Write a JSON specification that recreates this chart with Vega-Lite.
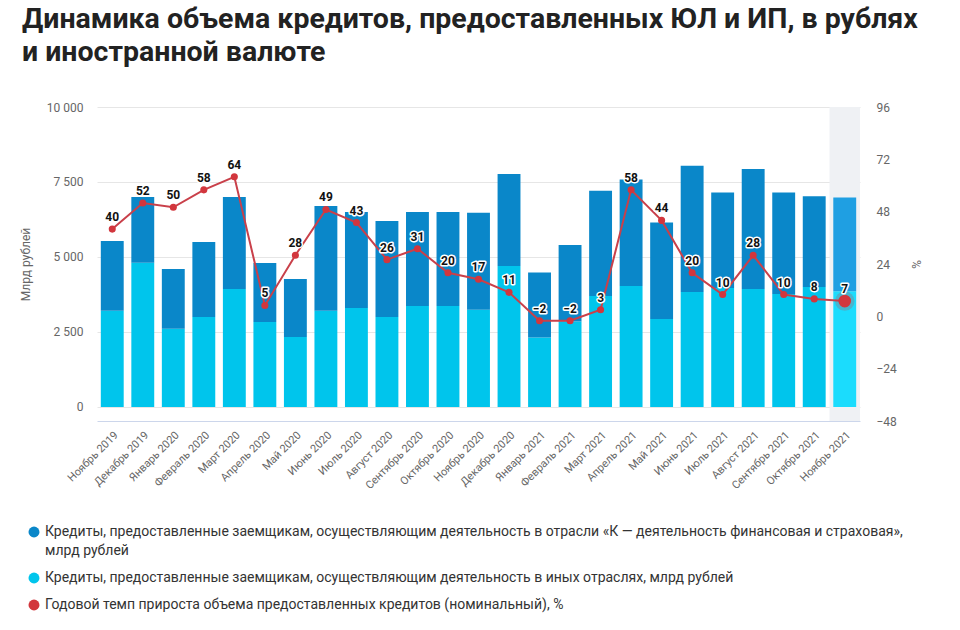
{
  "$schema": "https://vega.github.io/schema/vega-lite/v6.json",
  "width": 763,
  "height": 314,
  "autosize": "none",
  "padding": {"left": 97, "top": 107, "right": 100, "bottom": 209},
  "config": {"view": {"stroke": null}, "font": "Roboto"},
  "title": {
    "text": ["Динамика объема кредитов, предоставленных ЮЛ и ИП, в рублях", "и иностранной валюте"],
    "anchor": "start", "frame": "group", "dx": -75, "fontSize": 28.5, "fontWeight": "bold",
    "color": "#222222", "lineHeight": 33, "offset": 35, "font": "Roboto"
  },
  "datasets": {
    "bars": [
      {"month": "Ноябрь 2019", "series": "Кредиты, предоставленные заемщикам, осуществляющим деятельность в иных отраслях, млрд рублей", "value": 3210},
      {"month": "Ноябрь 2019", "series": "Кредиты, предоставленные заемщикам, осуществляющим деятельность в отрасли «К — деятельность финансовая и страховая», млрд рублей", "value": 2323},
      {"month": "Декабрь 2019", "series": "Кредиты, предоставленные заемщикам, осуществляющим деятельность в иных отраслях, млрд рублей", "value": 4810},
      {"month": "Декабрь 2019", "series": "Кредиты, предоставленные заемщикам, осуществляющим деятельность в отрасли «К — деятельность финансовая и страховая», млрд рублей", "value": 2190},
      {"month": "Январь 2020", "series": "Кредиты, предоставленные заемщикам, осуществляющим деятельность в иных отраслях, млрд рублей", "value": 2610},
      {"month": "Январь 2020", "series": "Кредиты, предоставленные заемщикам, осуществляющим деятельность в отрасли «К — деятельность финансовая и страховая», млрд рублей", "value": 1990},
      {"month": "Февраль 2020", "series": "Кредиты, предоставленные заемщикам, осуществляющим деятельность в иных отраслях, млрд рублей", "value": 3000},
      {"month": "Февраль 2020", "series": "Кредиты, предоставленные заемщикам, осуществляющим деятельность в отрасли «К — деятельность финансовая и страховая», млрд рублей", "value": 2500},
      {"month": "Март 2020", "series": "Кредиты, предоставленные заемщикам, осуществляющим деятельность в иных отраслях, млрд рублей", "value": 3933},
      {"month": "Март 2020", "series": "Кредиты, предоставленные заемщикам, осуществляющим деятельность в отрасли «К — деятельность финансовая и страховая», млрд рублей", "value": 3067},
      {"month": "Апрель 2020", "series": "Кредиты, предоставленные заемщикам, осуществляющим деятельность в иных отраслях, млрд рублей", "value": 2833},
      {"month": "Апрель 2020", "series": "Кредиты, предоставленные заемщикам, осуществляющим деятельность в отрасли «К — деятельность финансовая и страховая», млрд рублей", "value": 1967},
      {"month": "Май 2020", "series": "Кредиты, предоставленные заемщикам, осуществляющим деятельность в иных отраслях, млрд рублей", "value": 2333},
      {"month": "Май 2020", "series": "Кредиты, предоставленные заемщикам, осуществляющим деятельность в отрасли «К — деятельность финансовая и страховая», млрд рублей", "value": 1934},
      {"month": "Июнь 2020", "series": "Кредиты, предоставленные заемщикам, осуществляющим деятельность в иных отраслях, млрд рублей", "value": 3210},
      {"month": "Июнь 2020", "series": "Кредиты, предоставленные заемщикам, осуществляющим деятельность в отрасли «К — деятельность финансовая и страховая», млрд рублей", "value": 3490},
      {"month": "Июль 2020", "series": "Кредиты, предоставленные заемщикам, осуществляющим деятельность в иных отраслях, млрд рублей", "value": 3300},
      {"month": "Июль 2020", "series": "Кредиты, предоставленные заемщикам, осуществляющим деятельность в отрасли «К — деятельность финансовая и страховая», млрд рублей", "value": 3200},
      {"month": "Август 2020", "series": "Кредиты, предоставленные заемщикам, осуществляющим деятельность в иных отраслях, млрд рублей", "value": 3000},
      {"month": "Август 2020", "series": "Кредиты, предоставленные заемщикам, осуществляющим деятельность в отрасли «К — деятельность финансовая и страховая», млрд рублей", "value": 3200},
      {"month": "Сентябрь 2020", "series": "Кредиты, предоставленные заемщикам, осуществляющим деятельность в иных отраслях, млрд рублей", "value": 3367},
      {"month": "Сентябрь 2020", "series": "Кредиты, предоставленные заемщикам, осуществляющим деятельность в отрасли «К — деятельность финансовая и страховая», млрд рублей", "value": 3133},
      {"month": "Октябрь 2020", "series": "Кредиты, предоставленные заемщикам, осуществляющим деятельность в иных отраслях, млрд рублей", "value": 3367},
      {"month": "Октябрь 2020", "series": "Кредиты, предоставленные заемщикам, осуществляющим деятельность в отрасли «К — деятельность финансовая и страховая», млрд рублей", "value": 3133},
      {"month": "Ноябрь 2020", "series": "Кредиты, предоставленные заемщикам, осуществляющим деятельность в иных отраслях, млрд рублей", "value": 3243},
      {"month": "Ноябрь 2020", "series": "Кредиты, предоставленные заемщикам, осуществляющим деятельность в отрасли «К — деятельность финансовая и страховая», млрд рублей", "value": 3231},
      {"month": "Декабрь 2020", "series": "Кредиты, предоставленные заемщикам, осуществляющим деятельность в иных отраслях, млрд рублей", "value": 4700},
      {"month": "Декабрь 2020", "series": "Кредиты, предоставленные заемщикам, осуществляющим деятельность в отрасли «К — деятельность финансовая и страховая», млрд рублей", "value": 3070},
      {"month": "Январь 2021", "series": "Кредиты, предоставленные заемщикам, осуществляющим деятельность в иных отраслях, млрд рублей", "value": 2311},
      {"month": "Январь 2021", "series": "Кредиты, предоставленные заемщикам, осуществляющим деятельность в отрасли «К — деятельность финансовая и страховая», млрд рублей", "value": 2167},
      {"month": "Февраль 2021", "series": "Кредиты, предоставленные заемщикам, осуществляющим деятельность в иных отраслях, млрд рублей", "value": 2845},
      {"month": "Февраль 2021", "series": "Кредиты, предоставленные заемщикам, осуществляющим деятельность в отрасли «К — деятельность финансовая и страховая», млрд рублей", "value": 2555},
      {"month": "Март 2021", "series": "Кредиты, предоставленные заемщикам, осуществляющим деятельность в иных отраслях, млрд рублей", "value": 3700},
      {"month": "Март 2021", "series": "Кредиты, предоставленные заемщикам, осуществляющим деятельность в отрасли «К — деятельность финансовая и страховая», млрд рублей", "value": 3510},
      {"month": "Апрель 2021", "series": "Кредиты, предоставленные заемщикам, осуществляющим деятельность в иных отраслях, млрд рублей", "value": 4033},
      {"month": "Апрель 2021", "series": "Кредиты, предоставленные заемщикам, осуществляющим деятельность в отрасли «К — деятельность финансовая и страховая», млрд рублей", "value": 3551},
      {"month": "Май 2021", "series": "Кредиты, предоставленные заемщикам, осуществляющим деятельность в иных отраслях, млрд рублей", "value": 2933},
      {"month": "Май 2021", "series": "Кредиты, предоставленные заемщикам, осуществляющим деятельность в отрасли «К — деятельность финансовая и страховая», млрд рублей", "value": 3217},
      {"month": "Июнь 2021", "series": "Кредиты, предоставленные заемщикам, осуществляющим деятельность в иных отраслях, млрд рублей", "value": 3833},
      {"month": "Июнь 2021", "series": "Кредиты, предоставленные заемщикам, осуществляющим деятельность в отрасли «К — деятельность финансовая и страховая», млрд рублей", "value": 4207},
      {"month": "Июль 2021", "series": "Кредиты, предоставленные заемщикам, осуществляющим деятельность в иных отраслях, млрд рублей", "value": 3967},
      {"month": "Июль 2021", "series": "Кредиты, предоставленные заемщикам, осуществляющим деятельность в отрасли «К — деятельность финансовая и страховая», млрд рублей", "value": 3183},
      {"month": "Август 2021", "series": "Кредиты, предоставленные заемщикам, осуществляющим деятельность в иных отраслях, млрд рублей", "value": 3933},
      {"month": "Август 2021", "series": "Кредиты, предоставленные заемщикам, осуществляющим деятельность в отрасли «К — деятельность финансовая и страховая», млрд рублей", "value": 4003},
      {"month": "Сентябрь 2021", "series": "Кредиты, предоставленные заемщикам, осуществляющим деятельность в иных отраслях, млрд рублей", "value": 3767},
      {"month": "Сентябрь 2021", "series": "Кредиты, предоставленные заемщикам, осуществляющим деятельность в отрасли «К — деятельность финансовая и страховая», млрд рублей", "value": 3383},
      {"month": "Октябрь 2021", "series": "Кредиты, предоставленные заемщикам, осуществляющим деятельность в иных отраслях, млрд рублей", "value": 4000},
      {"month": "Октябрь 2021", "series": "Кредиты, предоставленные заемщикам, осуществляющим деятельность в отрасли «К — деятельность финансовая и страховая», млрд рублей", "value": 3020},
      {"month": "Ноябрь 2021", "series": "Кредиты, предоставленные заемщикам, осуществляющим деятельность в иных отраслях, млрд рублей", "value": 3855},
      {"month": "Ноябрь 2021", "series": "Кредиты, предоставленные заемщикам, осуществляющим деятельность в отрасли «К — деятельность финансовая и страховая», млрд рублей", "value": 3128}
    ],
    "rate": [
      {"month": "Ноябрь 2019", "rate": 40},
      {"month": "Декабрь 2019", "rate": 52},
      {"month": "Январь 2020", "rate": 50},
      {"month": "Февраль 2020", "rate": 58},
      {"month": "Март 2020", "rate": 64},
      {"month": "Апрель 2020", "rate": 5},
      {"month": "Май 2020", "rate": 28},
      {"month": "Июнь 2020", "rate": 49},
      {"month": "Июль 2020", "rate": 43},
      {"month": "Август 2020", "rate": 26},
      {"month": "Сентябрь 2020", "rate": 31},
      {"month": "Октябрь 2020", "rate": 20},
      {"month": "Ноябрь 2020", "rate": 17},
      {"month": "Декабрь 2020", "rate": 11},
      {"month": "Январь 2021", "rate": -2},
      {"month": "Февраль 2021", "rate": -2},
      {"month": "Март 2021", "rate": 3},
      {"month": "Апрель 2021", "rate": 58},
      {"month": "Май 2021", "rate": 44},
      {"month": "Июнь 2021", "rate": 20},
      {"month": "Июль 2021", "rate": 10},
      {"month": "Август 2021", "rate": 28},
      {"month": "Сентябрь 2021", "rate": 10},
      {"month": "Октябрь 2021", "rate": 8},
      {"month": "Ноябрь 2021", "rate": 7}
    ]
  },
  "encoding": {
    "x": {
      "field": "month", "type": "nominal",
      "scale": {
        "domain": ["Ноябрь 2019","Декабрь 2019","Январь 2020","Февраль 2020","Март 2020","Апрель 2020","Май 2020","Июнь 2020","Июль 2020","Август 2020","Сентябрь 2020","Октябрь 2020","Ноябрь 2020","Декабрь 2020","Январь 2021","Февраль 2021","Март 2021","Апрель 2021","Май 2021","Июнь 2021","Июль 2021","Август 2021","Сентябрь 2021","Октябрь 2021","Ноябрь 2021"],
        "paddingInner": 0.25, "paddingOuter": 0.125
      },
      "axis": {
        "title": null, "labelAngle": -45, "labelFontSize": 11, "labelColor": "#666666",
        "ticks": false, "domainColor": "#ccd6eb", "labelPadding": 8, "grid": false, "labelFont": "Roboto"
      }
    }
  },
  "layer": [
    {
      "data": {"name": "rate"},
      "transform": [{"filter": "datum.month === 'Ноябрь 2021'"}],
      "mark": {"type": "bar", "color": "#eff1f4", "width": {"band": 1.33}}
    },
    {
      "data": {"name": "bars"},
      "mark": {"type": "bar"},
      "encoding": {
        "y": {
          "field": "value", "type": "quantitative", "stack": "zero",
          "scale": {"domain": [-470, 10000], "nice": false, "zero": false},
          "axis": {
            "title": "Млрд рублей", "values": [0, 2500, 5000, 7500, 10000],
            "labelExpr": "replace(format(datum.value, ','), ',', ' ')",
            "domain": false, "ticks": false, "gridColor": "#e6e6e6", "labelColor": "#666666",
            "labelFontSize": 12, "titleColor": "#666666", "titleFontWeight": "normal", "titleFontSize": 12,
            "labelPadding": 14, "titlePadding": 14, "labelFont": "Roboto", "titleFont": "Roboto"
          }
        },
        "order": {"field": "series", "sort": "ascending"},
        "color": {
          "condition": [
            {"test": "datum.month === 'Ноябрь 2021' && indexof(datum.series, 'отрасли') >= 0", "value": "#1f9fe2"},
            {"test": "datum.month === 'Ноябрь 2021'", "value": "#1bdcfd"}
          ],
          "field": "series", "type": "nominal",
          "scale": {
            "domain": [
              "Кредиты, предоставленные заемщикам, осуществляющим деятельность в отрасли «К — деятельность финансовая и страховая», млрд рублей",
              "Кредиты, предоставленные заемщикам, осуществляющим деятельность в иных отраслях, млрд рублей",
              "Годовой темп прироста объема предоставленных кредитов (номинальный), %"
            ],
            "range": ["#0a87c9", "#00c5ec", "#d2363d"]
          },
          "legend": {
            "orient": "none", "legendX": -70, "legendY": 418, "direction": "vertical", "title": null,
            "symbolType": "circle", "symbolSize": 120, "labelFontSize": 14, "labelColor": "#333333",
            "labelLimit": 900, "rowPadding": 13, "labelFont": "Roboto", "symbolStrokeWidth": 0,
            "labelExpr": "indexof(datum.label, 'отрасли') >= 0 ? ['Кредиты, предоставленные заемщикам, осуществляющим деятельность в отрасли «К — деятельность финансовая и страховая»,', 'млрд рублей'] : datum.label",
            "encode": {"labels": {"update": {"lineHeight": {"value": 19}}}}
          }
        }
      }
    },
    {
      "data": {"name": "rate"},
      "encoding": {
        "y": {
          "field": "rate", "type": "quantitative",
          "scale": {"domain": [-48, 96], "nice": false},
          "axis": {
            "orient": "right", "title": "%", "values": [-48, -24, 0, 24, 48, 72, 96],
            "domain": false, "ticks": false, "gridColor": "#e6e6e6", "labelColor": "#666666",
            "labelFontSize": 12, "titleColor": "#666666", "titleFontWeight": "normal", "titleFontSize": 12,
            "labelPadding": 16, "titlePadding": 12, "labelFont": "Roboto", "titleFont": "Roboto"
          }
        }
      },
      "layer": [
        {"mark": {"type": "line", "color": "#c9404a", "strokeWidth": 2}},
        {
          "transform": [{"filter": "datum.month === 'Ноябрь 2021'"}],
          "mark": {"type": "point", "filled": true, "color": "#d2363d", "opacity": 0.25, "size": 380}
        },
        {
          "mark": {"type": "point", "filled": true, "opacity": 1},
          "encoding": {
            "color": {"datum": "Годовой темп прироста объема предоставленных кредитов (номинальный), %"},
            "size": {"condition": {"test": "datum.month === 'Ноябрь 2021'", "value": 160}, "value": 50}
          }
        },
        {
          "mark": {"type": "text", "fontWeight": "bold", "fontSize": 12, "dy": -12, "baseline": "middle",
                   "stroke": "white", "strokeWidth": 3, "fill": "white", "strokeJoin": "round", "font": "Roboto"},
          "encoding": {"text": {"field": "rate", "type": "quantitative"}}
        },
        {
          "mark": {"type": "text", "fontWeight": "bold", "fontSize": 12, "dy": -12, "baseline": "middle",
                   "fill": "#111111", "font": "Roboto"},
          "encoding": {"text": {"field": "rate", "type": "quantitative"}}
        }
      ]
    }
  ],
  "resolve": {"scale": {"y": "independent"}, "axis": {"y": "independent"}}
}
